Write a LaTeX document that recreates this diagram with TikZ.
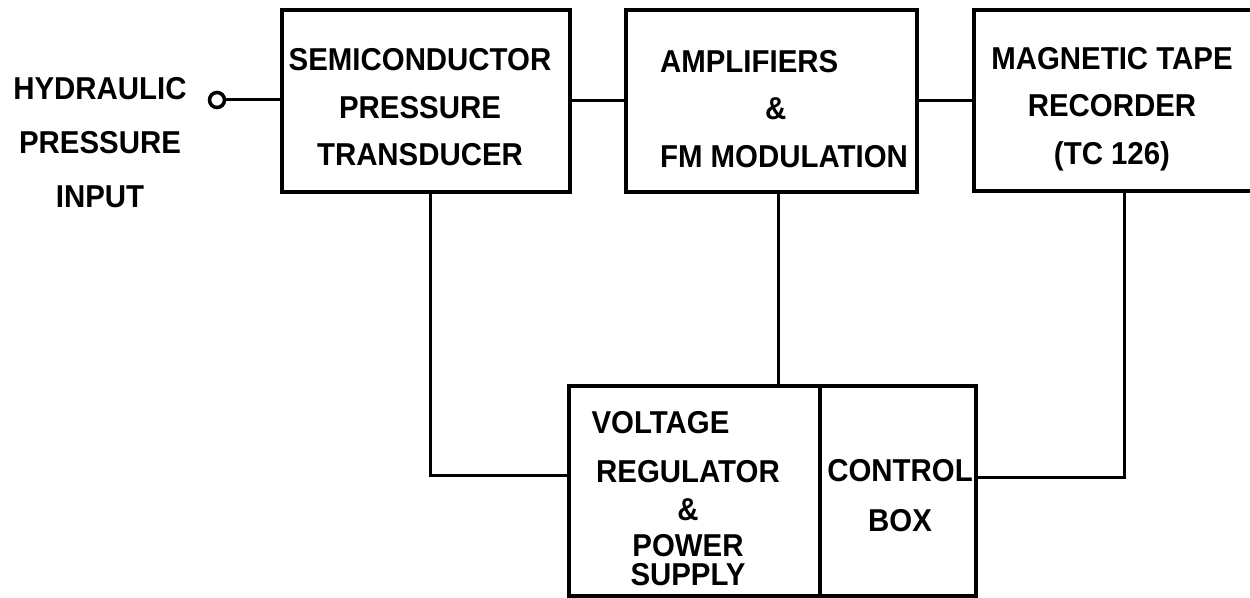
\documentclass[tikz,border=0pt]{standalone}
\usepackage{fontspec}
\setmainfont{Liberation Sans}[FakeStretch=0.93]
\begin{document}
\begin{tikzpicture}[
  blk/.style={draw,line width=2pt,rectangle,inner sep=0pt},
  conn/.style={line width=1.7pt},
  txt/.style={align=center,inner sep=0pt,font=\fontsize{18}{27}\selectfont\bfseries}]
  \useasboundingbox (0,0) rectangle (25,11.96);
  % upper row
  \node[blk,circle,minimum size=0.3cm] (in) at (4.34,9.96) {};
  \node[blk,minimum width=5.76cm,minimum height=3.64cm] (sens) at (8.52,9.94) {};
  \node[blk,minimum width=5.82cm,minimum height=3.64cm] (amp) at (15.43,9.94) {};
  \node[blk,minimum width=6cm,minimum height=3.62cm] (rec) at (22.48,9.95) {};
  % supply unit
  \node[blk,minimum width=5.02cm,minimum height=4.2cm] (vreg) at (13.89,2.14) {};
  \node[blk,minimum width=3.12cm,minimum height=4.2cm] (ctrl) at (17.96,2.14) {};
  % texts
  \node[txt] (tin) at (2.0,9.1) {HYDRAULIC\\[3.7pt]PRESSURE\\[3.7pt]INPUT};
  \node[txt] (tsens) at (8.4,9.81) {SEMICONDUCTOR\\PRESSURE\\TRANSDUCER};
  \node[txt,align=left] (tamp) at (15.68,9.78) {AMPLIFIERS\\\hspace*{2.1cm}\&\\FM MODULATION};
  \node[txt] (trec) at (22.24,9.78) {MAGNETIC TAPE\\RECORDER\\(TC 126)};
  \node[txt] (tvreg) at (13.76,1.99) {VOLTAGE\hspace*{1.1cm}\\[0.8pt]REGULATOR\\[-4.9pt]\&\\[-6.6pt]POWER\\[-10.6pt]SUPPLY};
  \node[txt] (tctrl) at (18.0,2.04) {CONTROL\\[1.4pt]BOX};
  % lines
  \draw[conn] (in.east) -- (in.east -| sens.west);
  \draw[conn] (sens.east) -- (sens.east -| amp.west);
  \draw[conn] (amp.east) -- (amp.east -| rec.west);
  \draw[conn] ([xshift=0.08cm]sens.south) |- ([yshift=0.3cm]vreg.west);
  \draw[conn] ([xshift=0.13cm]amp.south) -- ([xshift=0.13cm]amp.south |- vreg.north);
  \draw[conn] (rec.south) |- ([yshift=0.26cm]ctrl.east);
\end{tikzpicture}
\end{document}
